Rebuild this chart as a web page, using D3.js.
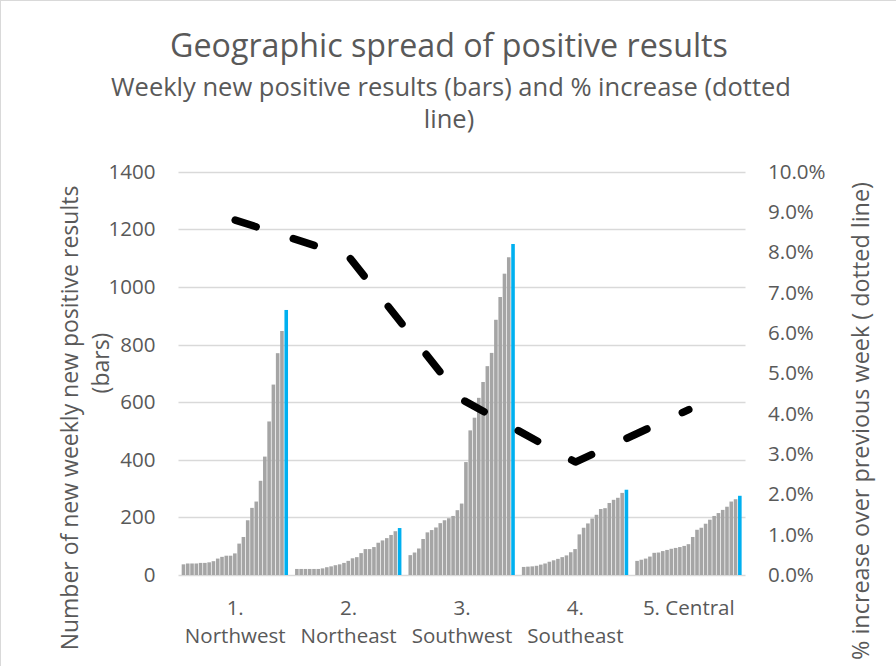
<!DOCTYPE html>
<html>
<head>
<meta charset="utf-8">
<script src="https://cdn.jsdelivr.net/npm/d3@7"></script>
<style>
  html, body { margin: 0; padding: 0; background: #fff; }
  svg { display: block; }
  text { font-family: "Open Sans", "Noto Sans", sans-serif; fill: #595959; }
</style>
</head>
<body>
<svg id="chart" width="896" height="666"></svg>
<script>
// ---- Data ----
const categories = ["1. Northwest", "2. Northeast", "3. Southwest", "4. Southeast", "5. Central"];
const categoryLabelLines = [["1.", "Northwest"], ["2.", "Northeast"], ["3.", "Southwest"], ["4.", "Southeast"], ["5. Central"]];
const northwest = [37, 40, 40, 40, 42, 42, 44, 48, 57, 63, 67, 67, 75, 109, 132, 190, 233, 255, 327, 411, 533, 661, 770, 847, 920];
const northeast = [21, 21, 21, 21, 21, 21, 23, 27, 30, 34, 37, 42, 49, 58, 62, 76, 90, 90, 97, 112, 120, 128, 139, 152, 163];
const southwest = [69, 78, 92, 125, 148, 156, 165, 180, 190, 197, 205, 225, 248, 392, 502, 546, 615, 670, 725, 771, 886, 965, 1046, 1103, 1149];
const southeast = [28, 29, 30, 32, 36, 40, 46, 51, 56, 62, 68, 79, 90, 141, 164, 179, 196, 209, 229, 232, 250, 261, 268, 285, 296];
const central   = [49, 53, 57, 64, 77, 78, 83, 87, 91, 94, 97, 101, 107, 132, 157, 164, 178, 192, 205, 215, 226, 237, 255, 263, 275];
const pctIncrease = [0.088, 0.079, 0.0435, 0.028, 0.041];
const leftTicks = [0, 200, 400, 600, 800, 1000, 1200, 1400];
const rightTicks = [0, 0.01, 0.02, 0.03, 0.04, 0.05, 0.06, 0.07, 0.08, 0.09, 0.10];

const weeklySeries = [northwest, northeast, southwest, southeast, central];
const nWeeks = northwest.length;

// ---- Layout ----
const svg = d3.select("#chart");
const plot = { left: 178.5, right: 745.5, top: 171.7, bottom: 575 };

// chart area border (top & left visible)
svg.append("line").attr("x1", 0).attr("x2", 896).attr("y1", 0.5).attr("y2", 0.5).attr("stroke", "#d9d9d9");
svg.append("line").attr("x1", 0.5).attr("x2", 0.5).attr("y1", 0).attr("y2", 666).attr("stroke", "#d9d9d9");

const x0 = d3.scaleBand().domain(categories).range([plot.left, plot.right]).paddingInner(0.056).paddingOuter(0.028);
const x1 = d3.scaleBand().domain(d3.range(nWeeks)).range([0, x0.bandwidth()]);
const y = d3.scaleLinear().domain([0, 1400]).range([plot.bottom, plot.top]);
const y2 = d3.scaleLinear().domain([0, 0.10]).range([plot.bottom, plot.top]);

function fit(sel, target) {
  const node = sel.node();
  const fs = parseFloat(sel.attr("font-size"));
  const w = node.getComputedTextLength();
  const nfs = fs * target / w;
  sel.attr("font-size", nfs);
  return nfs;
}

// gridlines
svg.append("g").selectAll("line").data(leftTicks).join("line")
  .attr("x1", plot.left).attr("x2", plot.right)
  .attr("y1", d => Math.round(y(d)) + 0.5).attr("y2", d => Math.round(y(d)) + 0.5)
  .attr("stroke", "#d9d9d9").attr("stroke-width", 1.3);

// bars
const groups = svg.append("g").selectAll("g").data(categories).join("g")
  .attr("transform", d => `translate(${x0(d)},0)`);
groups.selectAll("rect").data((d, i) => weeklySeries[i].map((v, j) => ({ v, j })))
  .join("rect")
  .attr("x", d => x1(d.j))
  .attr("width", x1.bandwidth() - 0.7)
  .attr("y", d => y(d.v))
  .attr("height", d => y(0) - y(d.v))
  .attr("fill", d => d.j === nWeeks - 1 ? "#00b0f0" : "#a5a5a5");

// dashed line (% increase)
const lineGen = d3.line()
  .x((d, i) => x0(categories[i]) + x0.bandwidth() / 2)
  .y(d => y2(d));
svg.append("path").datum(pctIncrease)
  .attr("d", lineGen)
  .attr("fill", "none")
  .attr("stroke", "#000")
  .attr("stroke-width", 7.5)
  .attr("stroke-linecap", "round")
  .attr("stroke-linejoin", "round")
  .attr("stroke-dasharray", "22,39");

// left axis labels
const tickSize = 20;
const gl = svg.append("g").attr("transform", `translate(${plot.left},0)`)
  .call(d3.axisLeft(y).tickValues(leftTicks).tickSize(0).tickPadding(23).tickFormat(d3.format("d")));
gl.select(".domain").remove();
gl.selectAll("text").attr("font-size", tickSize).attr("font-family", null).attr("fill", "#595959");
const t1400 = gl.selectAll("text").filter(d => d === 1400);
const fsTick = fit(t1400, 47);
gl.selectAll("text").attr("font-size", fsTick);

const gr = svg.append("g").attr("transform", `translate(${plot.right},0)`)
  .call(d3.axisRight(y2).tickValues(rightTicks).tickSize(0).tickPadding(22.5).tickFormat(d3.format(".1%")));
gr.select(".domain").remove();
gr.selectAll("text").attr("font-size", fsTick).attr("font-family", null).attr("fill", "#595959");

// category labels
const catG = svg.append("g");
categories.forEach((c, i) => {
  const cx = x0(c) + x0.bandwidth() / 2;
  categoryLabelLines[i].forEach((ln, k) => {
    catG.append("text").attr("x", cx).attr("y", 615 + k * 28)
      .attr("text-anchor", "middle").attr("font-size", fsTick).text(ln);
  });
});

// titles
const title = svg.append("text").attr("x", 449).attr("y", 57).attr("text-anchor", "middle")
  .attr("font-size", 30).text("Geographic spread of positive results");
fit(title, 558);
const sub1 = svg.append("text").attr("x", 451).attr("y", 96).attr("text-anchor", "middle")
  .attr("font-size", 22).text("Weekly new positive results (bars) and % increase (dotted");
const fsSub = fit(sub1, 680);
svg.append("text").attr("x", 449).attr("y", 128).attr("text-anchor", "middle")
  .attr("font-size", fsSub).text("line)");

// axis titles
const lt1 = svg.append("text").attr("transform", "translate(78,418) rotate(-90)")
  .attr("text-anchor", "middle").attr("font-size", 20).text("Number of new weekly new positive results");
const fsAx = fit(lt1, 465);
svg.append("text").attr("transform", "translate(109,363) rotate(-90)")
  .attr("text-anchor", "middle").attr("font-size", fsAx).text("(bars)");
const rt = svg.append("text").attr("transform", "translate(869,421) rotate(-90)")
  .attr("text-anchor", "middle").attr("font-size", 20).text("% increase over previous week ( dotted line)");
fit(rt, 478);
</script>
</body>
</html>
